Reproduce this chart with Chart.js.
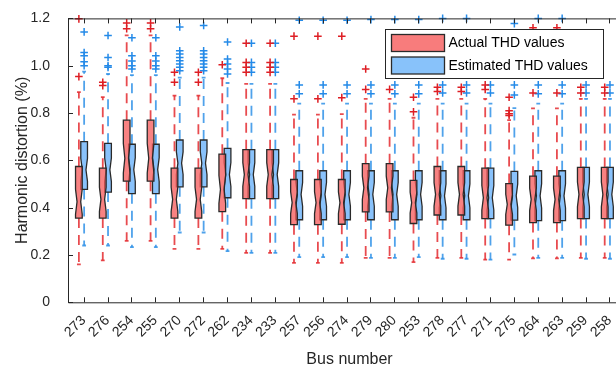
<!DOCTYPE html>
<html>
<head>
<meta charset="utf-8">
<script src="https://cdn.jsdelivr.net/npm/chart.js@4.4.1/dist/chart.umd.min.js"></script>
<style>
  html, body { margin: 0; padding: 0; overflow: hidden; background: #fff; }
  #wrap { width: 640px; height: 374px; }
</style>
</head>
<body>
<div id="wrap"><canvas id="thdChart" width="640" height="374"></canvas></div>
<script>
// bus order as on the x axis
const busNumbers = ["273", "276", "254", "255", "270", "272", "262", "234", "233", "257", "256", "274",
  "279", "280", "253", "278", "277", "271", "275", "264", "263", "259", "258"]

const seriesNames = ["Actual THD values", "Estimated THD values"]

// actual THD (%) - box stats
const actualQ1 = [0.356, 0.356, 0.512, 0.512, 0.356, 0.356, 0.383, 0.438, 0.438, 0.328, 0.328, 0.330,
  0.382, 0.382, 0.333, 0.369, 0.369, 0.354, 0.326, 0.337, 0.337, 0.354, 0.354]
const actualMedian = [0.425, 0.435, 0.609, 0.609, 0.435, 0.435, 0.477, 0.540, 0.540, 0.421, 0.421, 0.421,
  0.484, 0.484, 0.421, 0.456, 0.456, 0.442, 0.414, 0.435, 0.435, 0.456, 0.456]
const actualQ3 = [0.574, 0.567, 0.770, 0.770, 0.567, 0.567, 0.626, 0.645, 0.645, 0.519, 0.519, 0.519,
  0.586, 0.586, 0.515, 0.574, 0.574, 0.567, 0.502, 0.533, 0.533, 0.570, 0.570]
const actualLow = [0.160, 0.177, 0.260, 0.260, 0.226, 0.226, 0.226, 0.209, 0.209, 0.167, 0.167, 0.167,
  0.188, 0.188, 0.170, 0.188, 0.188, 0.180, 0.180, 0.186, 0.186, 0.188, 0.188]
const actualHigh = [0.888, 0.867, 1.128, 1.128, 0.874, 0.874, 0.947, 0.923, 0.923, 0.793, 0.793, 0.795,
  0.860, 0.860, 0.780, 0.860, 0.860, 0.860, 0.770, 0.820, 0.820, 0.860, 0.860]
const actualOutliers = [
  [1.198, 0.954], [0.93, 0.916], [1.181, 1.156], [1.181, 1.156], [0.972, 0.93], [0.972, 0.93],
  [1.004], [1.095, 1.014, 0.993, 0.972], [1.095, 1.014, 0.993, 0.972], [1.125, 0.86], [1.125, 0.86],
  [1.125, 0.865], [0.986, 0.9], [0.9], [0.867, 0.805], [0.909, 0.891], [0.909, 0.891], [0.919, 0.9],
  [0.867, 0.81, 0.797, 0.79], [1.16, 0.885], [1.16, 0.885], [0.909, 0.885], [0.909, 0.885]]

// estimated THD (%)
const estQ1 = [0.477, 0.466, 0.459, 0.459, 0.488, 0.488, 0.442, 0.438, 0.438, 0.349, 0.349, 0.349,
  0.349, 0.349, 0.349, 0.349, 0.349, 0.354, 0.347, 0.345, 0.345, 0.354, 0.354]
const estMedian = [0.560, 0.560, 0.561, 0.561, 0.588, 0.588, 0.540, 0.540, 0.540, 0.456, 0.456, 0.456,
  0.456, 0.456, 0.456, 0.450, 0.450, 0.442, 0.450, 0.450, 0.450, 0.456, 0.456]
const estQ3 = [0.679, 0.672, 0.668, 0.668, 0.686, 0.686, 0.651, 0.645, 0.645, 0.556, 0.556, 0.556,
  0.556, 0.556, 0.556, 0.556, 0.556, 0.567, 0.553, 0.556, 0.556, 0.570, 0.570]
const estLow = [0.240, 0.240, 0.233, 0.233, 0.295, 0.295, 0.216, 0.209, 0.209, 0.191, 0.191, 0.191,
  0.188, 0.188, 0.191, 0.184, 0.184, 0.180, 0.202, 0.188, 0.188, 0.184, 0.184]
const estHigh = [0.975, 0.965, 0.960, 0.960, 0.950, 0.950, 0.927, 0.923, 0.923, 0.840, 0.840, 0.840,
  0.840, 0.840, 0.840, 0.840, 0.840, 0.840, 0.821, 0.840, 0.840, 0.860, 0.860]
const estOutliers = [
  [1.143, 1.056, 1.042, 1.017, 1.0], [1.128, 1.035, 1.0, 0.993], [1.118, 1.042, 1.02, 1.0, 0.986],
  [1.118, 1.042, 1.02, 1.0, 0.986], [1.164, 1.063, 1.049, 1.035, 1.021, 1.007, 0.993, 0.979],
  [1.17, 1.063, 1.049, 1.035, 1.021, 1.007, 0.993, 0.979], [1.1, 1.028, 1.007, 0.986, 0.965],
  [1.095, 1.014, 0.993, 0.972], [1.095, 1.014, 0.993, 0.972], [1.192, 0.919, 0.881],
  [1.192, 0.919, 0.881], [1.192, 0.919, 0.881], [1.195, 0.919, 0.881], [1.195, 0.919, 0.881],
  [1.195, 0.919, 0.881], [1.2, 0.919, 0.885], [1.2, 0.919, 0.885], [0.919, 0.885],
  [1.178, 0.919, 0.876], [1.2, 0.919, 0.881], [1.2, 0.919, 0.881], [0.919, 0.885], [0.919, 0.885]]

// styling
const RED_LINE = "rgba(228, 44, 48, 0.85)"
const BLUE_LINE = "rgba(48, 146, 232, 0.85)"
const RED_FILL = "rgba(245, 88, 88, 0.75)"
const BLUE_FILL = "rgba(98, 174, 250, 0.75)"
const EDGE = "#2a2a2a"
const AXIS = "#262626"
const RED_OFFSET = -0.2
const BLUE_OFFSET = 0.02
const BOX_W = 0.28
const CAP_W = 0.08

Chart.defaults.font.family = "'Liberation Sans', Arial, sans-serif"
Chart.defaults.color = AXIS

function whiskerPoints(offset, q1, q3, low, high) {
  const pts = []
  busNumbers.forEach((b, i) => {
    const x = i + 1 + offset
    pts.push({ x: x, y: q3[i] }, { x: x, y: high[i] }, { x: x, y: null })
    pts.push({ x: x, y: q1[i] }, { x: x, y: low[i] }, { x: x, y: null })
  })
  return pts
}

function capPoints(offset, low, high) {
  const pts = []
  busNumbers.forEach((b, i) => {
    const x = i + 1 + offset
    pts.push({ x: x - CAP_W, y: high[i] }, { x: x + CAP_W, y: high[i] }, { x: x, y: null })
    pts.push({ x: x - CAP_W, y: low[i] }, { x: x + CAP_W, y: low[i] }, { x: x, y: null })
  })
  return pts
}

function outlierPoints(offset, lists) {
  const pts = []
  lists.forEach((vals, i) => {
    vals.forEach((v) => pts.push({ x: i + 1 + offset, y: v }))
  })
  return pts
}

function lineSet(label, data, color, dash) {
  return {
    label: label,
    data: data,
    showLine: true,
    spanGaps: false,
    borderColor: color,
    borderWidth: 1.8,
    borderDash: dash,
    pointRadius: 0,
    pointHoverRadius: 0,
  }
}

function crossSet(label, data, color) {
  return {
    label: label,
    data: data,
    pointStyle: "cross",
    pointRadius: 3.8,
    borderColor: color,
    borderWidth: 1.5,
    backgroundColor: color,
    clip: false,
  }
}

const boxSeries = [
  { offset: BLUE_OFFSET, q1: estQ1, med: estMedian, q3: estQ3, fill: BLUE_FILL },
  { offset: RED_OFFSET, q1: actualQ1, med: actualMedian, q3: actualQ3, fill: RED_FILL },
]

// notched boxes, drawn through the chart scales
const notchedBoxes = {
  id: "notchedBoxes",
  afterDatasetsDraw(chart) {
    const { ctx, scales } = chart
    const xs = scales.x
    const ys = scales.y
    const unit = xs.getPixelForValue(1) - xs.getPixelForValue(0)
    ctx.save()
    boxSeries.forEach((s) => {
      busNumbers.forEach((b, i) => {
        const xc = xs.getPixelForValue(i + 1 + s.offset)
        const half = (BOX_W * unit) / 2
        const inset = half * 0.45
        const notch = Math.min(0.242 * (s.q3[i] - s.q1[i]), s.q3[i] - s.med[i], s.med[i] - s.q1[i])
        const yTop = ys.getPixelForValue(s.q3[i])
        const yBot = ys.getPixelForValue(s.q1[i])
        const yMed = ys.getPixelForValue(s.med[i])
        const yNu = ys.getPixelForValue(s.med[i] + notch)
        const yNl = ys.getPixelForValue(s.med[i] - notch)
        const xl = xc - half
        const xr = xc + half
        ctx.beginPath()
        ctx.moveTo(xl, yTop)
        ctx.lineTo(xr, yTop)
        ctx.lineTo(xr, yNu)
        ctx.lineTo(xr - inset, yMed)
        ctx.lineTo(xr, yNl)
        ctx.lineTo(xr, yBot)
        ctx.lineTo(xl, yBot)
        ctx.lineTo(xl, yNl)
        ctx.lineTo(xl + inset, yMed)
        ctx.lineTo(xl, yNu)
        ctx.closePath()
        ctx.fillStyle = s.fill
        ctx.fill()
        ctx.strokeStyle = EDGE
        ctx.lineWidth = 1.3
        ctx.stroke()
      })
    })
    ctx.restore()
  },
}

// matlab-like frame with inward ticks, plus the boxed legend
const frameAndLegend = {
  id: "frameAndLegend",
  afterDraw(chart) {
    const { ctx, chartArea, scales } = chart
    const { left, right, top, bottom } = chartArea
    ctx.save()
    ctx.strokeStyle = AXIS
    ctx.lineWidth = 1
    ctx.beginPath()
    ctx.moveTo(left + 0.5, top + 0.5)
    ctx.lineTo(left + 0.5, bottom + 0.5)
    ctx.lineTo(right, bottom + 0.5)
    ctx.moveTo(left + 0.5, top + 0.5)
    ctx.lineTo(right, top + 0.5)
    scales.x.ticks.forEach((t) => {
      const px = Math.round(scales.x.getPixelForValue(t.value)) + 0.5
      ctx.moveTo(px, bottom)
      ctx.lineTo(px, bottom - 5)
      ctx.moveTo(px, top)
      ctx.lineTo(px, top + 5)
    })
    scales.y.ticks.forEach((t) => {
      const py = Math.round(scales.y.getPixelForValue(t.value)) + 0.5
      ctx.moveTo(left, py)
      ctx.lineTo(left + 5, py)
    })
    ctx.stroke()

    // legend box
    const lx = 385.5, ly = 29.5, lw = 218, lh = 49
    ctx.fillStyle = "#fff"
    ctx.fillRect(lx, ly, lw, lh)
    ctx.strokeStyle = "#262626"
    ctx.strokeRect(lx, ly, lw, lh)
    const swatches = ["rgb(248, 124, 124)", "rgb(136, 194, 250)"]
    ctx.font = "14px 'Liberation Sans', Arial, sans-serif"
    ctx.textBaseline = "middle"
    seriesNames.forEach((name, k) => {
      const sy = ly + 5 + k * 22.5
      ctx.fillStyle = swatches[k]
      ctx.fillRect(lx + 6, sy, 53, 17)
      ctx.strokeStyle = EDGE
      ctx.lineWidth = 1.3
      ctx.strokeRect(lx + 6, sy, 53, 17)
      ctx.fillStyle = "#000"
      ctx.fillText(name, lx + 63, sy + 9)
    })
    ctx.restore()
  },
}

const thdChart = new Chart(document.getElementById("thdChart"), {
  type: "scatter",
  data: {
    datasets: [
      lineSet("actual whiskers", whiskerPoints(RED_OFFSET, actualQ1, actualQ3, actualLow, actualHigh), RED_LINE, [10, 7]),
      lineSet("estimated whiskers", whiskerPoints(BLUE_OFFSET, estQ1, estQ3, estLow, estHigh), BLUE_LINE, [10, 7]),
      lineSet("actual caps", capPoints(RED_OFFSET, actualLow, actualHigh), RED_LINE, []),
      lineSet("estimated caps", capPoints(BLUE_OFFSET, estLow, estHigh), BLUE_LINE, []),
      crossSet("actual outliers", outlierPoints(RED_OFFSET, actualOutliers), "rgb(222, 30, 36)"),
      crossSet("estimated outliers", outlierPoints(BLUE_OFFSET, estOutliers), "rgb(36, 138, 232)"),
    ],
  },
  options: {
    responsive: false,
    animation: false,
    events: [],
    layout: { padding: { top: 15, right: 9, left: 0, bottom: 0 } },
    plugins: {
      legend: { display: false },
      tooltip: { enabled: false },
    },
    scales: {
      x: {
        type: "linear",
        min: 0.345,
        max: 23.9,
        afterBuildTicks: (scale) => {
          scale.ticks = busNumbers.map((b, i) => ({ value: i + 1 }))
        },
        afterFit: (scale) => {
          scale.height = 71.7
        },
        ticks: {
          autoSkip: false,
          maxRotation: 45,
          minRotation: 45,
          padding: 2,
          font: { size: 14 },
          color: AXIS,
          callback: (value, index) => busNumbers[index],
        },
        grid: { display: false },
        border: { display: false },
        title: {
          display: true,
          text: "Bus number",
          font: { size: 16 },
          color: AXIS,
          padding: { top: 0, bottom: 5 },
        },
      },
      y: {
        min: 0,
        max: 1.2,
        afterFit: (scale) => {
          scale.width = 68
        },
        ticks: {
          stepSize: 0.2,
          padding: 10,
          font: { size: 14 },
          color: AXIS,
        },
        grid: { display: false },
        border: { display: false },
        title: {
          display: true,
          text: "Harmonic distortion (%)",
          font: { size: 16 },
          color: AXIS,
          padding: { top: 13, bottom: 0 },
        },
      },
    },
  },
  plugins: [notchedBoxes, frameAndLegend],
})
</script>
</body>
</html>
